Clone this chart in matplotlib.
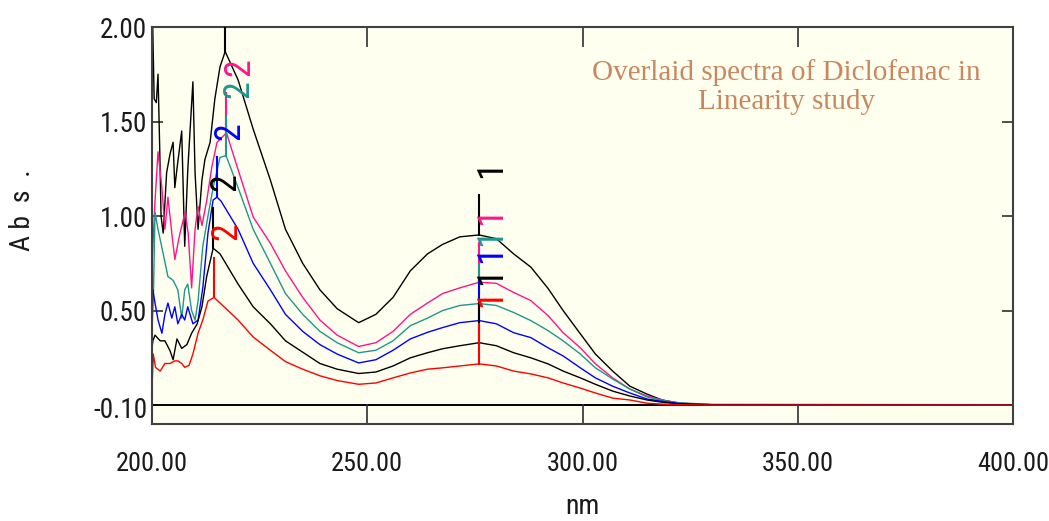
import matplotlib
matplotlib.use("Agg")
import matplotlib.pyplot as plt
import numpy as np

# 220 nm 之后六条光谱共用的波长 (nm)
wl_smooth = [220, 223.5, 227.5, 231, 235, 239, 243, 248, 252, 256, 260, 264, 267.5,
             271.5, 276, 280, 284, 288, 292, 295.5, 299.5, 303, 307, 311, 315,
             318.5, 322.5, 330, 400]

# (1) 最高浓度 (黑)
wl_noise_1 = [200.0, 200.5, 201.0, 201.4, 201.8, 202.1, 202.6, 203.4, 204.2, 204.9, 205.3,
              205.8, 206.9, 207.6, 208.3, 209.5, 210.0, 210.7, 211.6, 212.3, 213.5, 214.6,
              215.8, 217.0]
abs_noise_1 = [2.20, 1.62, 1.60, 1.75, 1.35, 1.00, 0.91, 1.23, 1.33, 1.39, 1.15,
               1.25, 1.45, 0.84, 1.24, 1.71, 1.23, 0.93, 1.19, 1.30, 1.39, 1.62,
               1.79, 1.87]
abs_smooth_1 = [1.72, 1.46, 1.19, 0.93, 0.75, 0.61, 0.51, 0.436, 0.48, 0.57, 0.71, 0.80, 0.85,
                0.89, 0.90, 0.88, 0.80, 0.73, 0.617, 0.50, 0.377, 0.27, 0.18, 0.10, 0.058,
                0.027, 0.01, 0.002, 0.0]

# (2) 粉
wl_noise_2 = [200.0, 200.2, 200.7, 201.4, 202.3, 203.0, 203.7, 204.6, 205.3, 206.5, 207.7,
              208.4, 209.2, 210.0, 210.7, 211.6, 212.7, 213.9, 215.1, 217.3]
abs_noise_2 = [0.75, 0.84, 1.08, 1.34, 1.15, 0.93, 1.10, 0.91, 0.77, 0.91, 1.02,
               0.91, 0.62, 0.93, 1.05, 0.95, 1.08, 1.26, 1.39, 1.44]
abs_smooth_2 = [1.245, 0.995, 0.856, 0.71, 0.57, 0.45, 0.37, 0.31, 0.33, 0.39, 0.48, 0.54, 0.59,
                0.62, 0.65, 0.644, 0.596, 0.553, 0.473, 0.383, 0.303, 0.218, 0.144, 0.085, 0.048,
                0.027, 0.01, 0.002, 0.0]

# (3) 青
wl_noise_3 = [200.0, 200.3, 200.7, 201.4, 202.6, 203.7, 204.9, 206.0, 206.9, 207.6, 208.3,
              209.2, 210.0, 210.7, 211.8, 213.0, 214.2, 215.8, 217.2]
abs_noise_3 = [0.40, 0.55, 1.02, 0.93, 0.80, 0.68, 0.66, 0.61, 0.46, 0.61, 0.64,
               0.50, 0.45, 0.55, 0.84, 1.00, 1.15, 1.31, 1.32]
abs_smooth_3 = [1.15, 0.93, 0.75, 0.59, 0.48, 0.39, 0.33, 0.277, 0.29, 0.34, 0.42, 0.46, 0.50,
                0.527, 0.537, 0.527, 0.49, 0.447, 0.394, 0.34, 0.27, 0.197, 0.138, 0.085, 0.043,
                0.025, 0.012, 0.004, 0.002]

# (4) 蓝
wl_noise_4 = [200.0, 200.2, 200.7, 201.4, 202.3, 203.0, 203.7, 204.6, 205.3, 206.0, 206.9,
              207.6, 208.3, 209.5, 210.7, 211.8, 213.0, 214.2, 215.1, 216.0]
abs_noise_4 = [0.60, 0.61, 0.54, 0.45, 0.38, 0.48, 0.54, 0.46, 0.52, 0.43, 0.48,
               0.45, 0.52, 0.43, 0.45, 0.62, 0.91, 1.085, 1.10, 1.08]
abs_smooth_4 = [0.93, 0.75, 0.61, 0.48, 0.39, 0.32, 0.27, 0.223, 0.24, 0.29, 0.35, 0.385, 0.41,
                0.436, 0.447, 0.43, 0.383, 0.357, 0.303, 0.26, 0.197, 0.144, 0.10, 0.064, 0.032,
                0.02, 0.008, 0.002, 0.0]

# (5) 黑 (低浓度)
wl_noise_5 = [200.0, 200.2, 200.7, 201.9, 203.0, 204.2, 204.9, 205.8, 206.9, 208.1, 209.2,
              210.5, 211.6, 212.7, 214.2, 215.8]
abs_noise_5 = [0.30, 0.34, 0.37, 0.34, 0.34, 0.287, 0.24, 0.35, 0.30, 0.32, 0.38,
               0.43, 0.52, 0.68, 0.83, 0.80]
abs_smooth_5 = [0.64, 0.52, 0.43, 0.34, 0.28, 0.22, 0.19, 0.167, 0.175, 0.207, 0.25, 0.277, 0.298,
                0.314, 0.33, 0.314, 0.277, 0.25, 0.218, 0.18, 0.144, 0.11, 0.074, 0.048, 0.027,
                0.015, 0.006, 0.001, 0.0]

# (6) 红 (最低浓度)
wl_noise_6 = [200.0, 200.3, 200.8, 201.9, 203.0, 204.2, 205.3, 206.0, 206.9, 207.6, 208.6,
              209.5, 210.7, 211.8, 213.0, 214.4, 215.8]
abs_noise_6 = [0.09, 0.27, 0.20, 0.18, 0.22, 0.22, 0.234, 0.234, 0.22, 0.20, 0.21,
               0.27, 0.38, 0.45, 0.55, 0.57, 0.54]
abs_smooth_6 = [0.45, 0.36, 0.29, 0.23, 0.19, 0.155, 0.13, 0.11, 0.117, 0.144, 0.17, 0.19, 0.197,
                0.207, 0.218, 0.207, 0.18, 0.165, 0.144, 0.117, 0.09, 0.064, 0.037, 0.027, 0.01,
                0.005, 0.002, 0.0, 0.0]

colors = ['#000000', '#ff148c', '#20968c', '#0000ff', '#000000', '#ff0000']
peak_ranges = [(265, 290, '1'), (212, 222, '2')]  # 峰号及其搜索区间

plt.rcParams['font.family'] = ['Roboto Condensed', 'Archivo Narrow', 'DejaVu Sans']

fig = plt.figure(figsize=(10.49, 5.21), dpi=100)
ax = fig.add_axes([152 / 1049, 97 / 521, 861 / 1049, 397 / 521])
ax.set_facecolor('#fffff0')
ax.axhline(0, color='black', lw=1.4, zorder=1)
YMAX = 2.0

curves = [(wl_noise_1, abs_noise_1, abs_smooth_1), (wl_noise_2, abs_noise_2, abs_smooth_2),
          (wl_noise_3, abs_noise_3, abs_smooth_3), (wl_noise_4, abs_noise_4, abs_smooth_4),
          (wl_noise_5, abs_noise_5, abs_smooth_5), (wl_noise_6, abs_noise_6, abs_smooth_6)]
for (wn, an, asm), c in zip(curves, colors):
    wl = np.array(wn + wl_smooth)
    ab = np.array(an + asm)
    ax.plot(wl, ab, color=c, lw=1.0, zorder=2)
    # 峰值标记: 竖线 + 旋转的峰号 (超出坐标范围的峰号不画)
    for lo, hi, txt in peak_ranges:
        m = (wl >= lo) & (wl <= hi)
        i = np.argmax(np.where(m, ab, -np.inf))
        px, py = wl[i], ab[i]
        ax.plot([px, px], [py, py + 0.21], color=c, lw=1.5, zorder=3)
        if py + 0.35 < YMAX - 0.05:
            ax.text(px - 1.3, py + 0.35, txt, rotation=90, ha='left', va='center',
                    color=c, fontsize=26, zorder=4)

ax.set_xlim(200, 400)
ax.set_ylim(-0.1, YMAX)
xt = [200, 250, 300, 350, 400]
yt = [-0.1, 0.5, 1.0, 1.5, 2.0]
ax.set_xticks(xt, ['%.2f' % v for v in xt])
ax.set_yticks(yt, ['%.2f' % v for v in yt])
ax.tick_params(axis='x', direction='in', length=14.4, width=1.2, top=True, pad=20,
               labelsize=19, colors='#303030', labelcolor='#1a1a1a')
ax.tick_params(axis='y', direction='in', length=8, width=1.2, right=True, pad=3.6,
               labelsize=19.5, colors='#303030', labelcolor='#1a1a1a')
ax.yaxis.get_major_ticks()[0].label1.set_verticalalignment('bottom')
for s in ax.spines.values():
    s.set_color('#404040')
    s.set_linewidth(1.5)

fig.text(23 / 1049, 1 - 210 / 521, 'A b  s  .', rotation=90, ha='center', va='center',
         fontsize=20, color='#1a1a1a')
fig.text(582 / 1049, 1 - 506 / 521, 'nm', ha='center', va='center', fontsize=20, color='#1a1a1a')

ax.text(0.737, 0.848, 'Overlaid spectra of Diclofenac in\nLinearity study', transform=ax.transAxes,
        ha='center', va='center', multialignment='center', fontsize=21,
        family=['Liberation Serif', 'DejaVu Serif'], color='#c9875f', linespacing=1.15)

fig.savefig('out.png', dpi=100)
